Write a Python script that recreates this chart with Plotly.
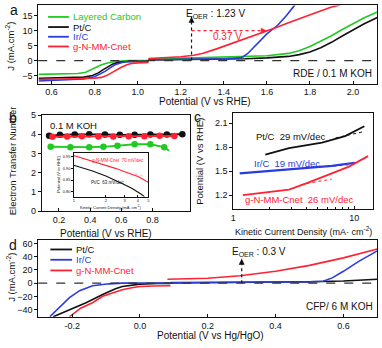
import math
import plotly.graph_objects as go

W, H = 382, 348

# ---------------- Panel a : LSV (RDE / 0.1 M KOH) ----------------
a_lc_cath_V = [0.54, 0.65, 0.72, 0.756, 0.787, 0.81, 0.832, 0.86, 0.894, 0.955, 1.05]
a_lc_cath_J = [-4.6, -4.5, -4.3, -4.0, -3.0, -2.2, -1.4, -0.8, -0.3, 0.0, 0.05]
a_pt_cath_V = [0.54, 0.65, 0.75, 0.79, 0.817, 0.84, 0.863, 0.885, 0.909, 0.955, 1.05]
a_pt_cath_J = [-5.9, -5.8, -5.5, -5.0, -4.1, -3.0, -1.9, -1.1, -0.6, -0.3, -0.2]
a_ir_cath_V = [0.54, 0.65, 0.75, 0.80, 0.825, 0.848, 0.87, 0.894, 0.92, 0.94, 1.0, 1.05]
a_ir_cath_J = [-6.8, -6.5, -6.1, -5.4, -4.6, -3.6, -2.5, -1.4, -0.8, -0.4, -0.3, -0.3]
a_gn_cath_V = [0.54, 0.65, 0.75, 0.80, 0.832, 0.855, 0.878, 0.90, 0.924, 0.95, 0.97, 1.0, 1.05]
a_gn_cath_J = [-6.3, -6.2, -6.0, -5.9, -5.6, -5.0, -4.1, -3.1, -2.2, -1.4, -0.95, -0.75, -0.65]

a_lc_an_V = [1.05, 1.2, 1.4, 1.5, 1.6, 1.7, 1.75, 1.8, 1.85, 1.9, 1.95, 2.0, 2.05, 2.113]
a_lc_an_J = [0.5, 0.8, 1.0, 1.2, 1.6, 2.4, 3.3, 4.7, 6.4, 8.3, 10.4, 12.4, 14.2, 16.2]
a_pt_an_V = [1.05, 1.2, 1.4, 1.5, 1.6, 1.7, 1.75, 1.8, 1.85, 1.9, 1.95, 2.0, 2.05, 2.113]
a_pt_an_J = [0.2, 0.3, 0.4, 0.6, 0.9, 1.4, 2.0, 2.9, 4.3, 6.1, 8.2, 10.3, 12.2, 14.4]
a_ir_an_V = [1.05, 1.2, 1.4, 1.47, 1.49, 1.51, 1.54, 1.567, 1.6, 1.65, 1.69, 1.73]
a_ir_an_J = [0.3, 0.4, 0.6, 0.9, 1.3, 2.3, 4.5, 6.7, 8.9, 11.8, 15.0, 18.6]
a_gn_an_V = [1.05, 1.1, 1.2, 1.26, 1.3, 1.37, 1.43, 1.49, 1.55, 1.605, 1.65, 1.7, 1.8, 1.9, 1.94]
a_gn_an_J = [0.7, 0.85, 1.3, 1.8, 2.4, 4.0, 5.5, 7.1, 8.6, 10.0, 11.2, 12.6, 15.2, 17.9, 18.6]

a_xticks = [0.6, 0.8, 1.0, 1.2, 1.4, 1.6, 1.8, 2.0]
a_yticks = [-5, 0, 5, 10, 15]
a_oer_V = [1.25, 1.25]
a_oer_J = [0, 14.6]
a_gap_V = [1.25, 1.60]
a_gap_J = [10, 10]

# ---------------- Panel b : electron transfer number ----------------
b_pt_V = [0.137, 0.206, 0.301, 0.394, 0.495, 0.59, 0.685, 0.786, 0.892, 0.991]
b_pt_n = [3.92, 3.97, 3.99, 4.0, 3.99, 3.97, 3.98, 3.99, 3.99, 4.0]
b_gn_V = [0.158, 0.253, 0.347, 0.453, 0.548, 0.647, 0.748, 0.845, 0.94]
b_gn_n = [3.87, 3.88, 3.9, 3.88, 3.89, 3.9, 3.9, 3.92, 3.91]
b_lc_V = [0.147, 0.273, 0.394, 0.485, 0.575, 0.685, 0.786, 0.875]
b_lc_n = [3.35, 3.33, 3.33, 3.35, 3.4, 3.48, 3.48, 3.33]
b_lc_tail_V = [0.875, 0.906]
b_lc_tail_n = [3.33, 3.14]
b_xticks = [0.2, 0.4, 0.6, 0.8]
b_yticks = [0, 1, 2, 3, 4, 5]

# inset (Tafel ORR)
i_gn_j = [1, 1.5, 2, 2.5, 3, 3.5, 4, 4.5, 5]
i_gn_E = [0.953, 0.93, 0.912, 0.898, 0.885, 0.875, 0.865, 0.852, 0.84]
i_pt_j = [1, 1.5, 2, 2.5, 3, 3.5, 4, 4.3, 4.6]
i_pt_E = [0.912, 0.888, 0.867, 0.848, 0.83, 0.815, 0.80, 0.79, 0.78]
i_fit_j = [3.28, 4.39]
i_fit_E = [0.881, 0.869]
i_xticks = [1, 2, 3, 4, 5]
i_yticks = [0.80, 0.85, 0.90, 0.95]

# ---------------- Panel c : OER Tafel ----------------
c_pt_j = [1.84, 2.89, 5.41, 8.4, 12.1]
c_pt_E = [1.706, 1.788, 1.856, 1.938, 2.06]
c_pt_fit_j = [7.0, 12.1]
c_pt_fit_E = [1.915, 1.995]
c_ir_j = [1.13, 3.96, 6.53, 10.1]
c_ir_E = [1.47, 1.534, 1.564, 1.604]
c_ir_fit_j = [6.0, 10.1]
c_ir_fit_E = [1.555, 1.585]
c_gn_j = [1.2, 2.89, 3.96, 6.13, 8.93, 13.0]
c_gn_E = [1.2, 1.269, 1.342, 1.452, 1.553, 1.687]
c_gn_fit_j = [3.6, 6.5]
c_gn_fit_E = [1.33, 1.40]
c_xticks = [1, 10]
c_xminor = [2, 3, 4, 5, 6, 7, 8, 9, 20]
c_yticks = [1.2, 1.5, 1.8, 2.1]

# ---------------- Panel d : CFP / 6 M KOH ----------------
d_pt_cath_V = [-0.256, -0.208, -0.159, -0.11, -0.072, -0.052, -0.02, 0.0, 0.05, 0.09]
d_pt_cath_J = [-51, -41, -29.6, -17.3, -8.4, -5.0, -2.5, -1.5, -0.6, -0.3]
d_pt_an_V = [0.09, 0.2, 0.3, 0.4, 0.5, 0.6, 0.65, 0.7]
d_pt_an_J = [0.3, 0.6, 1.0, 1.5, 2.2, 3.2, 4.3, 5.9]
d_ir_cath_V = [-0.266, -0.237, -0.208, -0.178, -0.14, -0.091, -0.052, 0.09]
d_ir_cath_J = [-51, -37, -22, -11.4, -4.0, -1.0, 0.0, 0.3]
d_ir_an_V = [0.09, 0.2, 0.3, 0.4, 0.5, 0.54, 0.567, 0.6, 0.645, 0.7]
d_ir_an_J = [1.0, 1.2, 1.4, 1.6, 2.0, 3.0, 8.0, 18.0, 33.0, 49.0]
d_gn_cath_V = [-0.208, -0.175, -0.14, -0.11, -0.081, -0.052, -0.02, 0.0, 0.04, 0.09]
d_gn_cath_J = [-51, -38, -29.6, -20, -14.8, -9.9, -6.5, -5.0, -4.2, -3.9]
d_gn_an_V = [0.081, 0.2, 0.295, 0.4, 0.5, 0.6, 0.7]
d_gn_an_J = [5.9, 7.4, 11.3, 18.2, 27.0, 38.4, 51.7]
d_xticks = [-0.2, 0.0, 0.2, 0.4, 0.6]
d_yticks = [-40, -20, 0, 20, 40, 60]
d_oer_V = [0.3, 0.3]
d_oer_J = [0, 37]

GREEN = "#22c922"
BLACK = "#111111"
BLUE = "#2a3be0"
RED = "#ff2233"
FONT = "Liberation Sans, Arial, sans-serif"


def px(x):
    return x / W


def py(y):
    return 1 - y / H


fig = go.Figure()


def line(xs, ys, color, ax, width=1.6, dash=None):
    fig.add_trace(go.Scatter(x=xs, y=ys, mode="lines", xaxis="x" + ax, yaxis="y" + ax,
                             line=dict(color=color, width=width, dash=dash),
                             hoverinfo="skip", showlegend=False))


# panel a
for V, J, c in [(a_lc_cath_V, a_lc_cath_J, GREEN), (a_pt_cath_V, a_pt_cath_J, BLACK),
                (a_ir_cath_V, a_ir_cath_J, BLUE), (a_gn_cath_V, a_gn_cath_J, RED),
                (a_lc_an_V, a_lc_an_J, GREEN), (a_pt_an_V, a_pt_an_J, BLACK),
                (a_ir_an_V, a_ir_an_J, BLUE), (a_gn_an_V, a_gn_an_J, RED)]:
    line(V, J, c, "")
line(a_oer_V, a_oer_J, BLACK, "", width=1.2, dash="dot")
line(a_gap_V, a_gap_J, RED, "", width=1.2, dash="dot")

# panel b
fig.add_trace(go.Scatter(x=b_pt_V, y=b_pt_n, mode="lines+markers", xaxis="x2", yaxis="y2",
                         line=dict(color=BLACK, width=1.8), marker=dict(color=BLACK, size=6.5),
                         hoverinfo="skip", showlegend=False))
fig.add_trace(go.Scatter(x=b_gn_V, y=b_gn_n, mode="lines+markers", xaxis="x2", yaxis="y2",
                         line=dict(color=RED, width=1.8), marker=dict(color=RED, size=6.5),
                         hoverinfo="skip", showlegend=False))
fig.add_trace(go.Scatter(x=b_lc_V, y=b_lc_n, mode="lines+markers", xaxis="x2", yaxis="y2",
                         line=dict(color=GREEN, width=1.8), marker=dict(color=GREEN, size=6.5),
                         hoverinfo="skip", showlegend=False))
line(b_lc_tail_V, b_lc_tail_n, GREEN, "2", width=1.8)

# inset
line(i_gn_j, i_gn_E, RED, "5", width=1.1)
line(i_pt_j, i_pt_E, BLACK, "5", width=1.1)
line(i_fit_j, i_fit_E, "#ff88aa", "5", width=0.8, dash="dot")

# panel c
line(c_pt_j, c_pt_E, BLACK, "3", width=1.8)
line(c_pt_fit_j, c_pt_fit_E, BLACK, "3", width=1.0, dash="dot")
line(c_ir_j, c_ir_E, BLUE, "3", width=2.2)
line(c_ir_fit_j, c_ir_fit_E, BLUE, "3", width=1.0, dash="dot")
line(c_gn_j, c_gn_E, RED, "3", width=1.8)
line(c_gn_fit_j, c_gn_fit_E, RED, "3", width=1.0, dash="dot")

# panel d
for V, J, c in [(d_pt_cath_V, d_pt_cath_J, BLACK), (d_ir_cath_V, d_ir_cath_J, BLUE),
                (d_gn_cath_V, d_gn_cath_J, RED), (d_pt_an_V, d_pt_an_J, BLACK),
                (d_gn_an_V, d_gn_an_J, RED), (d_ir_an_V, d_ir_an_J, BLUE)]:
    line(V, J, c, "4")
line(d_oer_V, d_oer_J, BLACK, "4", width=1.2, dash="dot")


def axis(domain, rng, tickvals, ticktext=None, anchor=None, size=9, typ="linear", ticklen=3,
         minor=None, ticks="outside"):
    d = dict(domain=domain, range=rng, tickvals=tickvals, showline=True, linecolor=BLACK,
             linewidth=1, mirror=True, ticks=ticks, ticklen=ticklen, tickwidth=1,
             tickcolor=BLACK, showgrid=False, zeroline=False, anchor=anchor, type=typ,
             tickfont=dict(size=size, color=BLACK, family=FONT), fixedrange=True)
    if ticktext is not None:
        d["ticktext"] = ticktext
    if minor is not None:
        d["minor"] = minor
    return d


def fmt(vals, n):
    return [f"{v:.{n}f}" for v in vals]


fig.update_layout(
    width=W, height=H, margin=dict(l=0, r=0, t=0, b=0),
    plot_bgcolor="white", paper_bgcolor="white", showlegend=False,
    font=dict(family=FONT, size=9, color=BLACK),
    xaxis=axis([px(35.7), px(379.3)], [0.538, 2.113], a_xticks, fmt(a_xticks, 1), "y", ticks="inside"),
    yaxis=axis([py(81), py(0.5)], [-7.7, 18.4], a_yticks, None, "x"),
    xaxis2=axis([px(39.3), px(189)], [0.09, 1.037], b_xticks, fmt(b_xticks, 1), "y2", ticks="inside"),
    yaxis2=axis([py(212.3), py(113.3)], [0, 5], b_yticks, None, "x2"),
    xaxis3=axis([px(233.3), px(375)], [0, 1.155], c_xticks, ["1", "10"], "y3", typ="log", ticks="inside",
                minor=dict(tickvals=c_xminor, ticks="inside", ticklen=2, tickcolor=BLACK)),
    yaxis3=axis([py(210), py(111.7)], [1.026, 2.22], c_yticks, fmt(c_yticks, 1), "x3"),
    xaxis4=axis([px(35.7), px(379.3)], [-0.3, 0.7], d_xticks, fmt(d_xticks, 1), "y4", ticks="inside"),
    yaxis4=axis([py(321), py(242.3)], [-51, 65], d_yticks, None, "x4"),
    xaxis5=axis([px(71.7), px(147.3)], [0, 0.70], i_xticks, None, "y5", size=4, typ="log", ticklen=1.5,
                ticks="inside"),
    yaxis5=axis([py(197.3), py(152.3)], [0.78, 0.964], i_yticks, fmt(i_yticks, 2), "x5", size=4, ticklen=1.5),
)

# dashed zero lines
for ax in ["", "4"]:
    fig.add_shape(type="line", xref=("x" + ax) + " domain", yref="y" + ax, x0=0, x1=1, y0=0, y1=0,
                  line=dict(color="#333333", width=1.2, dash="dash"))

# arrow heads
fig.add_annotation(x=a_oer_V[1], y=a_oer_J[1], xref="x", yref="y", ax=0, ay=5, showarrow=True,
                   arrowhead=2, arrowsize=1, arrowwidth=1.2, arrowcolor=BLACK, text="")
fig.add_annotation(x=a_gap_V[1], y=a_gap_J[1], xref="x", yref="y", ax=-5, ay=0, showarrow=True,
                   arrowhead=2, arrowsize=1, arrowwidth=1.2, arrowcolor=RED, text="")
fig.add_annotation(x=d_oer_V[1], y=d_oer_J[1], xref="x4", yref="y4", ax=0, ay=5, showarrow=True,
                   arrowhead=2, arrowsize=1, arrowwidth=1.2, arrowcolor=BLACK, text="")


def text(x, y, s, size=9, color=BLACK, xanchor="left", angle=0):
    fig.add_annotation(x=px(x), y=py(y), xref="paper", yref="paper", text=s, showarrow=False,
                       xanchor=xanchor, yanchor="middle", textangle=angle,
                       font=dict(size=size, color=color, family=FONT))


# panel letters
text(5, 5, "a", 14)
text(4, 116, "b", 14)
text(192, 115, "c", 14)
text(4, 247, "d", 14)

# axis titles
text(205, 99.5, "Potential (V vs RHE)", 10, xanchor="center")
text(7, 42, "J (mA.cm<sup>-2</sup>)", 9.5, xanchor="center", angle=-90)
text(104, 235, "Potential (V vs RHE)", 10, xanchor="center")
text(10, 160, "Electron Transfer Number", 9.5, xanchor="center", angle=-90)
text(304, 233, "Kinetic Current Density (mA· cm<sup>-2</sup>)", 9, xanchor="center")
text(199, 161, "Potential (V vs RHE)", 9.5, xanchor="center", angle=-90)
text(210, 340.5, "Potential (V vs Hg/HgO)", 10, xanchor="center")
text(8, 280, "J (mA.cm<sup>-2</sup>)", 9.5, xanchor="center", angle=-90)

# inset titles
text(55.5, 174, "Potential (V vs RHE)", 4, xanchor="center", angle=-90)
text(109, 207.5, "Kinetic Current Density (mA. cm<sup>-2</sup>)", 4, xanchor="center")
text(88, 160.5, "g-N-MM-Cnet  70 mV/dec", 4.5, RED)
text(87, 183, "Pt/C  63 mV/dec", 4.5, BLACK)

# legends panel a
for yy, label, c in [(12.3, "Layered Carbon", GREEN), (22.7, "Pt/C", BLACK),
                     (32.7, "Ir/C", BLUE), (42.7, "g-N-MM-Cnet", RED)]:
    fig.add_shape(type="line", xref="paper", yref="paper", x0=px(45.7), x1=px(66.7), y0=py(yy), y1=py(yy),
                  line=dict(color=c, width=1.8))
    text(69, yy, label, 9.5, c)

# legend panel d
for yy, label, c in [(251.7, "Pt/C", BLACK), (262.3, "Ir/C", BLUE), (273.3, "g-N-MM-Cnet", RED)]:
    fig.add_shape(type="line", xref="paper", yref="paper", x0=px(48), x1=px(70), y0=py(yy), y1=py(yy),
                  line=dict(color=c, width=1.8))
    text(72, yy, label, 9.5, c)

# in-panel notes
text(376, 71, "RDE / 0.1 M KOH", 10, xanchor="right")
text(183, 9, "E<sub>OER</sub> : 1.23 V", 10)
text(227, 32.5, "0.37 V", 10, RED, xanchor="center")
text(46, 124, "0.1 M KOH", 9.5)
text(254, 135, "Pt/C  29 mV/dec", 9.5, BLACK)
text(252, 162.7, "Ir/C  19 mV/dec", 9.5, BLUE)
text(243, 200, "g-N-MM-Cnet  26 mV/dec", 9.5, RED)
text(230, 254, "E<sub>OER</sub> : 0.3 V", 10)
text(377, 310, "CFP/ 6 M KOH", 10, xanchor="right")

fig.write_html("out.html", config={"displayModeBar": False},
               post_script="document.body.style.margin='0';document.body.style.overflow='hidden';")
